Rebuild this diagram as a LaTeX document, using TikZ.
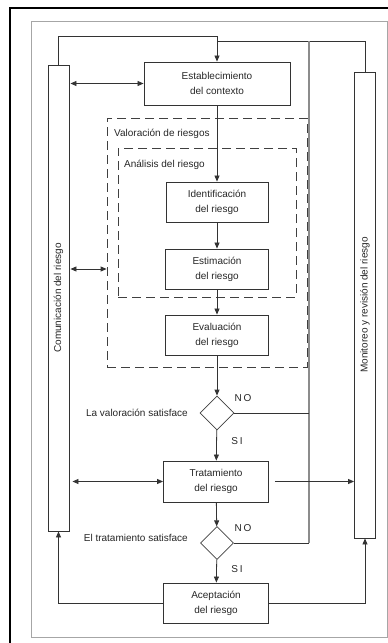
\documentclass[tikz,border=0pt]{standalone}
\usepackage{fontspec}
\setmainfont{Liberation Sans}
\usetikzlibrary{arrows.meta,shapes.geometric}

\begin{document}
\begin{tikzpicture}[x=1pt, y=-1pt,
  every node/.style={font=\fontsize{10}{15}\selectfont, text=black!85},
  caja/.style={draw=black!80, line width=0.9pt, align=center, minimum width=104pt, minimum height=40pt, inner sep=0pt},
  columna/.style={draw=black!80, line width=0.9pt, rotate=90, minimum width=466pt, minimum height=21pt, inner sep=0pt},
  rombo/.style={draw=black!75, line width=0.8pt, diamond, aspect=1, minimum size=33pt, inner sep=0pt},
  marco/.style={draw=black!75, line width=0.8pt, dash pattern=on 9pt off 5pt, minimum width=#1, inner sep=0pt},
  etiqueta/.style={anchor=west, inner sep=0pt},
  linea/.style={draw=black!80, line width=0.8pt},
  flecha/.style={linea, -{Triangle[length=6pt, width=5pt]}},
  dflecha/.style={linea, {Triangle[length=6pt, width=5pt]}-{Triangle[length=6pt, width=5pt]}}]

\useasboundingbox (0,0) rectangle (388,643);

% ----------------------------------------------------
% Marcos exteriores
% ----------------------------------------------------
\draw[line width=2pt, black] (10,643) -- (10,8) -- (388,8);
\draw[line width=0.9pt, black!35] (31,21) rectangle (387,637);

% ----------------------------------------------------
% Columnas laterales
% ----------------------------------------------------
\node[columna] (com) at (58.5,298) {Comunicación del riesgo};
\node[columna] (mon) at (365,305) {Monitoreo y revisión del riesgo};

% ----------------------------------------------------
% Valoración de riesgos (marcos de trazos)
% ----------------------------------------------------
\node[marco=200pt, minimum height=249pt] (val) at (207,242.5) {};
\node[marco=178pt, minimum height=149pt] (ana) at (207,222.5) {};
\node[etiqueta] (lblval) at (114,134) {Valoración de riesgos};
\node[etiqueta] (lblana) at (124,165) {Análisis del riesgo};

% ----------------------------------------------------
% Proceso central
% ----------------------------------------------------
\node[caja, minimum width=146pt, minimum height=43pt] (est) at (217,83.5) {Establecimiento\\del contexto};
\node[caja, minimum width=102pt] (ident) at (217,202) {Identificación\\del riesgo};
\node[caja, minimum width=103pt] (estim) at (217,269) {Estimación\\del riesgo};
\node[caja, minimum width=103pt] (eval) at (217,335) {Evaluación\\del riesgo};
\node[rombo, minimum size=34pt] (d1) at (217,413) {};
\node[caja, minimum width=105pt, minimum height=41pt] (trat) at (216,481.5) {Tratamiento\\del riesgo};
\node[rombo] (d2) at (217,543) {};
\node[caja, minimum width=105pt] (acep) at (216,603) {Aceptación\\del riesgo};

% Textos de decisión
\node[anchor=east, inner sep=0pt] (q1) at (188,413) {La valoración satisface};
\node[anchor=east, inner sep=0pt] (q2) at (188,538) {El tratamiento satisface};
\node (no1) at (243,398) {N\,O};
\node (si1) at (237,441) {S\,I};
\node (no2) at (243,528) {N\,O};
\node (si2) at (237,569) {S\,I};

% ----------------------------------------------------
% Conexiones
% ----------------------------------------------------
\coordinate (arriba) at (217,36);
\coordinate (retorno) at (309,41);

\draw[flecha] (com.east) -- (com.east |- arriba) -- (arriba) -- (est.north);
\draw[linea] (est.north |- retorno) -- (mon.east |- retorno) -- (mon.east);
\draw[line width=1.3pt, black!45] (retorno) -- (retorno |- d2);

\draw[flecha] (est) -- (ident);
\draw[flecha] (ident) -- (estim);
\draw[flecha] (estim) -- (eval);
\draw[flecha] (eval) -- (d1);
\draw[flecha] (d1) -- (trat);
\draw[flecha] (trat) -- (d2);
\draw[flecha] (d2) -- (acep);

\draw[linea] (d1.east) -- (retorno |- d1);
\draw[linea] (d2.east) -- (retorno |- d2);

\draw[dflecha, shorten <=1pt] (com.south |- est.west) -- (est.west);
\draw[dflecha, shorten <=1pt] (com.south |- estim) -- (val.west |- estim);
\draw[dflecha, shorten <=3pt] (com.south |- trat) -- (trat.west);
\draw[flecha, shorten <=6pt] (trat.east) -- (mon.north |- trat);

\draw[flecha] (acep.west) -- (com.west |- acep) -- (com.west);
\draw[flecha] (acep.east) -- (mon.west |- acep) -- (mon.west);

\end{tikzpicture}
\end{document}
